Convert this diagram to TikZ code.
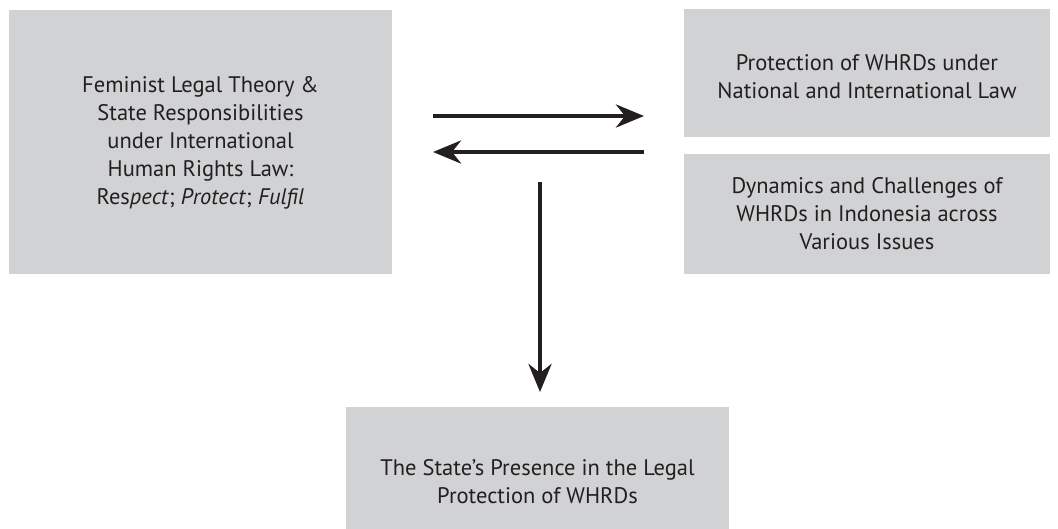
\documentclass[tikz,border=0pt]{standalone}
\usepackage{fontspec}
\setmainfont{PT Sans}
\usepackage{xcolor}
\usetikzlibrary{arrows.meta}

\definecolor{boxgray}{HTML}{D1D2D4}
\definecolor{inkgray}{HTML}{231F20}

\tikzset{
    boxnode/.style={fill=boxgray, text=inkgray, align=center, inner sep=0pt,
        font=\fontsize{22.5}{28}\selectfont},
    flowarrow/.style={draw=inkgray, line width=4.5pt,
        -{Stealth[length=28pt, width=23pt, inset=9pt]}}
}

\begin{document}
\begin{tikzpicture}[x=1pt, y=-1pt]
        \useasboundingbox (0,0) rectangle (1058,528);

        \node [boxnode, minimum width=383pt, minimum height=264pt, text height=130pt] (theory) at (200.5, 142)
            {Feminist Legal Theory \&\\ State Responsibilities\\ under International\\ Human Rights Law:\\ Res\textit{pect}; \textit{Protect}; \textit{Fulfil}};
        \node [boxnode, minimum width=366pt, minimum height=128pt, text height=52pt] (protection) at (867, 73)
            {Protection of WHRDs under\\ National and International Law};
        \node [boxnode, minimum width=366pt, minimum height=120pt] (dynamics) at (867, 214)
            {Dynamics and Challenges of\\ WHRDs in Indonesia across\\ Various Issues};
        % box runs past the lower edge of the page
        \node [boxnode, minimum width=383pt, minimum height=150pt] (presence) at (537.5, 482)
            {The State's Presence in the Legal\\ Protection of WHRDs};

        \coordinate (rightfrom) at (433, 116);
        \coordinate (rightto) at (644, 116);
        \coordinate (leftfrom) at (644, 152);
        \coordinate (leftto) at (433, 152);
        \coordinate (downfrom) at (540, 182);
        \coordinate (downto) at (540, 392);

        \draw [flowarrow] (rightfrom) -- (rightto);
        \draw [flowarrow] (leftfrom) -- (leftto);
        \draw [flowarrow] (downfrom) -- (downto);
    \end{tikzpicture}
\end{document}
